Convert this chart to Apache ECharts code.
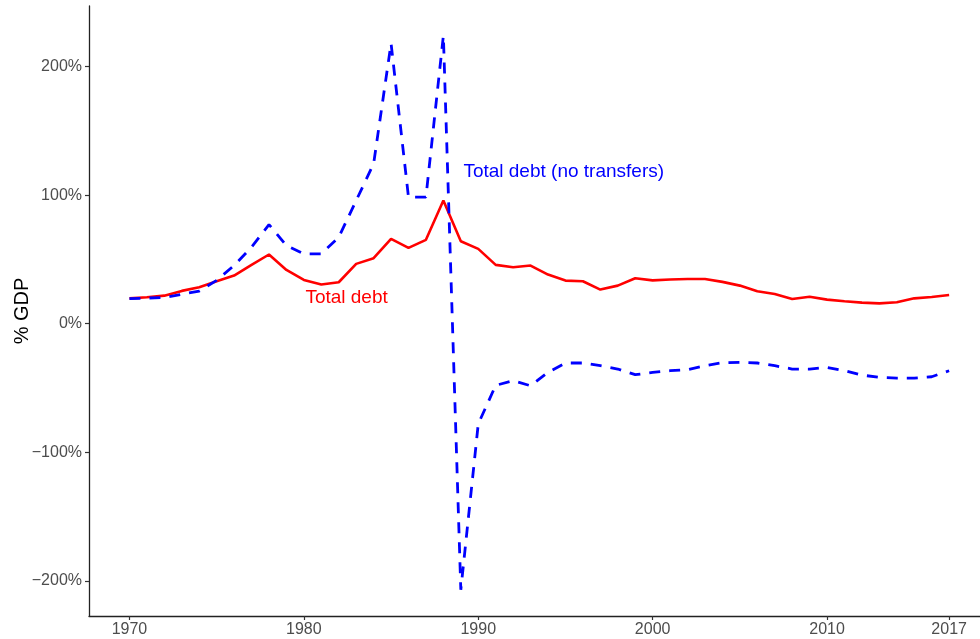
<!DOCTYPE html>
<html>
<head>
<meta charset="utf-8">
<script src="https://cdn.jsdelivr.net/npm/echarts@6/dist/echarts.min.js"></script>
<style>
html,body{margin:0;padding:0;background:#fff;}
#chart{width:980px;height:639px;}
</style>
</head>
<body>
<div id="chart"></div>
<script>
const years = [];
for (let y = 1970; y <= 2017; y++) years.push(y);

const totalDebt = [
  19.7, 20.5, 21.8, 25.5, 28.3, 33.0, 37.4, 45.7, 53.8, 41.8,
  34.0, 30.4, 32.2, 46.5, 50.9, 66.0, 59.0, 65.2, 95.8, 64.1,
  58.2, 45.7, 43.9, 45.2, 38.2, 33.5, 33.0, 26.5, 29.6, 35.3,
  33.7, 34.3, 34.8, 34.8, 32.5, 29.6, 25.2, 23.1, 19.2, 21.0,
  18.7, 17.4, 16.4, 15.8, 16.6, 19.7, 20.8, 22.3
];
const totalDebtNoTransfers = [
  19.4, 19.9, 20.4, 22.8, 25.4, 33.7, 45.3, 59.5, 77.1, 60.8,
  54.3, 54.3, 67.2, 95.8, 124.4, 218.0, 98.4, 98.4, 224.0, -207.0,
  -78.0, -48.0, -44.4, -48.3, -37.9, -30.6, -30.6, -32.7, -35.3, -39.7,
  -37.9, -36.6, -35.8, -32.7, -30.4, -30.1, -30.6, -32.7, -35.3, -35.3,
  -34.0, -36.6, -40.0, -41.8, -42.3, -42.3, -41.3, -36.6
];
const xTicks = [1970, 1980, 1990, 2000, 2010, 2017];
const yTicks = [-200, -100, 0, 100, 200];
const labelTotal = [1982.45, 20, 'Total debt'];
const labelNoTransfers = [1994.9, 118, 'Total debt (no transfers)'];

const FONT = '"Liberation Sans", Arial, Helvetica, sans-serif';
const pair = (arr) => years.map((y, i) => [y, arr[i]]);

const chart = echarts.init(document.getElementById('chart'), null, {renderer: 'canvas'});
chart.setOption({
  animation: false,
  backgroundColor: '#ffffff',
  grid: {left: 89, right: 0, top: 6, bottom: 23, containLabel: false, outerBoundsMode: 'none'},
  xAxis: {
    type: 'value',
    min: 1967.68,
    max: 2018.77,
    axisLine: {show: true, onZero: false, lineStyle: {color: '#222', width: 1.3}},
    axisTick: {show: true, customValues: xTicks, length: 4, lineStyle: {color: '#333', width: 1.2}},
    axisLabel: {customValues: xTicks, margin: 6, color: '#4d4d4d', fontSize: 16, fontFamily: FONT,
      formatter: v => String(v)},
    splitLine: {show: false}
  },
  yAxis: {
    type: 'value',
    min: -227.4,
    max: 247.1,
    name: '% GDP',
    nameLocation: 'middle',
    nameGap: 57,
    nameMoveOverlap: false,
    nameTextStyle: {color: '#000', fontSize: 20, fontFamily: FONT},
    axisLine: {show: true, onZero: false, lineStyle: {color: '#222', width: 1.3}},
    axisTick: {show: true, customValues: yTicks, length: 4, lineStyle: {color: '#333', width: 1.2}},
    axisLabel: {customValues: yTicks, margin: 7, color: '#4d4d4d', fontSize: 16, fontFamily: FONT,
      formatter: v => (v < 0 ? '\u2212' : '') + Math.abs(v) + '%'},
    splitLine: {show: false}
  },
  series: [
    {
      type: 'line',
      data: pair(totalDebt),
      showSymbol: false,
      lineStyle: {color: '#ff0000', width: 2.6},
      z: 2
    },
    {
      type: 'line',
      data: pair(totalDebtNoTransfers),
      showSymbol: false,
      lineStyle: {color: '#0000ff', width: 2.8, type: [11, 9], cap: 'butt'},
      z: 3
    },
    {
      type: 'scatter',
      symbolSize: 0,
      silent: true,
      z: 5,
      itemStyle: {opacity: 1},
      data: [labelTotal, labelNoTransfers].map(d => ({
        value: [d[0], d[1]],
        itemStyle: {opacity: 1},
        label: {
          show: true, position: 'inside', formatter: d[2], opacity: 1,
          color: d === labelTotal ? '#ff0000' : '#0000ff',
          fontSize: 19, fontFamily: FONT
        }
      }))
    }
  ]
});
</script>
</body>
</html>
